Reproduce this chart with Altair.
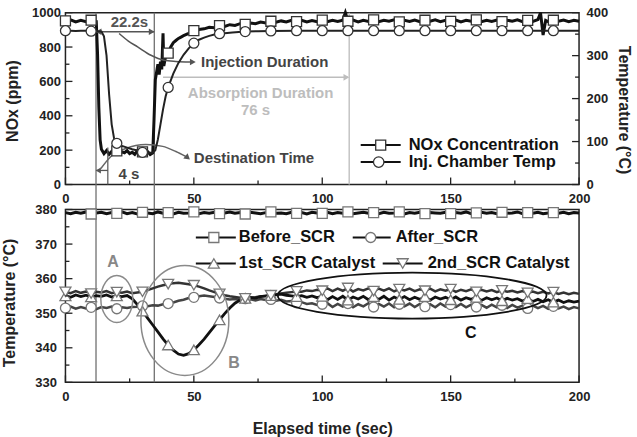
import altair as alt
import pandas as pd

FONT = "Liberation Sans"

# ---------------- top panel data ----------------
nox_t = [0, 2, 4, 6, 8, 10, 11, 12, 12.5, 13, 13.5, 14, 15, 16, 17, 18, 19, 20, 21, 22,
         23, 24, 25, 26, 27, 28, 29, 30, 31, 32, 33, 34, 34.5, 35, 35.5, 36, 36.5, 37,
         37.5, 38, 38.3, 39, 40, 41, 42, 43, 44, 45, 46, 48,
         50, 52, 54, 56, 58, 60, 62, 64, 66, 68, 70, 72, 74, 76, 78, 80, 82, 84, 86, 88,
         90, 92, 94, 96, 98, 100, 102, 104, 106, 108, 109,
         110, 112, 114, 116, 118, 120, 122, 124, 126, 128, 130, 132, 134, 136, 138, 140,
         142, 144, 146, 148, 150, 152, 154, 156, 158, 160, 162, 164, 166, 168, 170, 172,
         174, 176, 178, 180, 182, 184, 185, 186, 187, 188, 190, 192, 194, 196, 198, 200]
nox_v = [952, 958, 946, 955, 948, 956, 950, 948, 760, 450, 260, 205, 180, 198, 176, 192, 183, 196, 178, 190,
         185, 197, 180, 188, 176, 195, 182, 190, 178, 192, 175, 184, 380, 610, 655, 700, 640, 715,
         670, 880, 690, 745, 765, 800, 825, 838, 850, 858, 866, 880,
         895, 902, 906, 915, 912, 925, 920, 930, 926, 936, 932, 940, 936, 945, 940, 950, 944, 952, 946, 955,
         948, 956, 946, 954, 948, 957, 947, 955, 949, 956, 1000,
         950, 957, 946, 955, 949, 958, 947, 956, 950, 958, 946, 955, 949, 957, 947, 956,
         950, 958, 947, 955, 949, 957, 946, 956, 950, 958, 947, 955, 949, 957, 948, 956,
         950, 958, 947, 955, 949, 960, 1000, 870, 955, 948, 956, 950, 957, 947, 955, 950]

temp_t = [0, 2, 4, 6, 8, 10, 12, 14, 15, 16, 17, 18, 19, 20, 22, 24, 26, 28, 30, 32, 34,
          35, 36, 37, 38, 39, 40, 42, 44, 46, 48, 50, 52, 54, 56, 58, 60, 65, 70, 75, 80,
          90, 100, 110, 120, 130, 140, 150, 160, 170, 180, 190, 200]
temp_v = [358, 358, 357.5, 358, 358, 357, 357, 356, 345, 300, 210, 140, 105, 96, 90, 86, 82, 79, 75, 74, 74,
          80, 105, 140, 175, 205, 226, 258, 283, 302, 317, 329, 337, 342, 346, 349, 351, 354, 356, 357, 357.5,
          358, 358, 358, 358, 358, 358, 358, 358, 358, 358, 358, 358]

# ---------------- bottom panel data (t = 0..200 step 2) ----------------
bt = [0, 2, 4, 6, 8, 10, 12, 14, 16, 18, 20, 22, 24, 26, 28, 30, 32, 34, 36, 38,
      40, 42, 44, 46, 48, 50, 52, 54, 56, 58, 60, 62, 64, 66, 68, 70, 72, 74, 76, 78,
      80, 82, 84, 86, 88, 90, 92, 94, 96, 98, 100, 102, 104, 106, 108, 110, 112, 114, 116, 118,
      120, 122, 124, 126, 128, 130, 132, 134, 136, 138, 140, 142, 144, 146, 148, 150, 152, 154, 156, 158,
      160, 162, 164, 166, 168, 170, 172, 174, 176, 178, 180, 182, 184, 186, 188, 190, 192, 194, 196, 198, 200]
before_scr = [379.1, 378.8, 379.2, 378.9, 379.3, 378.7, 379.0, 379.2, 378.8, 379.1,
              378.9, 379.3, 378.8, 379.1, 378.7, 379.2, 379.0, 378.8, 379.3, 378.9,
              379.1, 378.7, 379.2, 378.9, 379.0, 379.3, 378.8, 379.1, 378.9, 379.2,
              378.8, 379.0, 379.3, 378.9, 379.1, 378.7, 379.2, 379.0, 378.8, 379.1,
              379.3, 378.9, 379.0, 378.8, 379.2, 378.9, 379.1, 378.7, 379.2, 379.0,
              378.9, 379.2, 378.8, 379.1, 378.9, 379.3, 378.8, 379.0, 379.2, 378.9,
              379.1, 378.8, 379.2, 378.9, 379.0, 379.3, 378.7, 379.1, 378.9, 379.2,
              378.8, 379.1, 379.0, 378.9, 379.2, 378.8, 379.1, 378.9, 379.3, 378.8,
              379.0, 379.2, 378.9, 379.1, 378.8, 379.2, 378.9, 379.0, 379.3, 378.8,
              379.1, 378.9, 379.2, 378.8, 379.0, 379.1, 378.9, 379.2, 378.8, 379.1, 379.0]
after_scr = [351.5, 351.9, 351.3, 351.8, 351.4, 351.7, 351.2, 351.8, 351.5, 351.9,
             351.3, 351.7, 351.5, 351.8, 351.9, 352.1, 352.0, 352.3, 352.2, 352.6,
             352.8, 353.1, 353.6, 353.9, 354.4, 354.6, 354.9, 355.1, 354.9, 354.7,
             354.4, 354.2, 354.0, 354.1, 353.9, 354.2, 354.0, 353.7, 354.1, 353.8,
             354.0, 353.6, 353.9, 353.4, 353.5, 353.0, 353.2, 352.7, 352.9, 352.4,
             352.6, 352.9, 351.8, 352.7, 351.9, 352.8, 351.7, 352.6, 352.0, 352.9,
             351.8, 352.7, 351.9, 352.8, 351.7, 352.6, 352.0, 352.8, 351.8, 352.7,
             351.9, 352.6, 351.7, 352.8, 351.9, 352.5, 351.8, 352.7, 351.7, 352.5,
             351.8, 352.4, 351.6, 352.5, 351.7, 352.3, 351.5, 352.4, 351.6, 352.2,
             351.4, 352.2, 351.5, 352.1, 351.3, 352.0, 351.4, 351.9, 351.2, 351.8, 351.4]
scr1_cat = [355.0, 354.6, 355.3, 354.8, 355.2, 354.7, 355.1, 354.9, 355.3, 354.7,
            355.0, 354.8, 355.1, 354.2, 352.5, 350.6, 348.6, 346.6, 344.6, 342.6,
            340.8, 339.3, 338.2, 337.8, 338.3, 339.4, 340.9, 342.5, 344.4, 346.3,
            348.1, 349.9, 351.5, 352.9, 353.8, 354.3, 354.6, 354.4, 354.8, 355.0,
            355.1, 355.3, 355.5, 355.2, 355.0, 354.8, 355.1, 354.6, 355.0, 354.5,
            354.9, 353.9, 354.8, 354.0, 354.9, 353.8, 354.7, 354.1, 354.9, 353.9,
            354.8, 354.0, 354.9, 353.8, 354.7, 354.0, 354.8, 353.9, 354.6, 354.0,
            354.8, 353.8, 354.7, 354.1, 354.6, 353.9, 354.7, 353.8, 354.5, 354.0,
            354.6, 353.7, 354.5, 353.9, 354.4, 353.6, 354.3, 353.8, 354.2, 353.5,
            354.2, 353.4, 354.0, 353.3, 353.9, 353.2, 353.8, 353.1, 353.6, 353.2, 353.5]
scr2_cat = [356.2, 355.8, 356.4, 355.9, 356.3, 355.7, 356.2, 356.0, 356.4, 355.8,
            356.1, 355.9, 356.3, 355.8, 356.0, 356.2, 356.7, 357.2, 357.7, 358.1,
            358.4, 358.7, 358.8, 358.6, 358.4, 358.1, 357.7, 357.2, 356.6, 356.1,
            355.6, 355.2, 354.9, 354.7, 354.5, 354.3, 354.4, 354.6, 354.9, 355.0,
            355.2, 355.5, 355.7, 355.9, 356.1, 356.3, 356.2, 356.6, 356.4, 356.8,
            356.5, 357.2, 356.4, 357.1, 356.5, 357.3, 356.3, 357.0, 356.6, 357.2,
            356.4, 357.1, 356.5, 357.2, 356.3, 357.0, 356.6, 357.1, 356.4, 356.9,
            356.5, 357.1, 356.3, 356.9, 356.5, 357.0, 356.2, 356.8, 356.4, 356.9,
            356.2, 356.8, 356.3, 356.7, 356.1, 356.6, 356.2, 356.5, 356.0, 356.4,
            355.9, 356.3, 355.8, 356.2, 355.7, 356.1, 355.6, 356.0, 355.5, 355.9, 355.6]

# ---------------- axes ticks ----------------
x_major = [0, 50, 100, 150, 200]
x_minor = [25, 75, 125, 175]
nox_major = [0, 200, 400, 600, 800, 1000]
nox_minor = [100, 300, 500, 700, 900]
tr_major = [0, 100, 200, 300, 400]
tr_minor = [50, 150, 250, 350]
tb_major = [330, 340, 350, 360, 370, 380]
tb_minor = [335, 345, 355, 365, 375]

# ---------------- annotations ----------------
vlines_t = [11.9, 34.6]
absorb_end_t = [110.5]

W, H1, H2, GAP = 514, 172, 173, 25

nox_df = pd.DataFrame({"t": nox_t, "v": nox_v})
temp_df = pd.DataFrame({"t": temp_t, "v": temp_v})
bot_df = pd.DataFrame({"t": bt, "before": before_scr, "after": after_scr,
                       "s1": scr1_cat, "s2": scr2_cat})


def marks_every10(df, lo=0):
    return df[(df["t"] % 10 == 0) & (df["t"] < 200) & (df["t"] >= lo)]


ax_x_top = alt.Axis(values=x_major, ticks=False, domain=False, grid=False, labelPadding=8,
                    labelFlush=False, title=None)
ax_x_bot = alt.Axis(values=x_major, ticks=False, domain=False, grid=False, labelPadding=8,
                    labelFlush=False, title="Elapsed time (sec)", titleX=W / 2, titleY=46.5,
                    titleBaseline="middle", titleAlign="center")
ax_nox = alt.Axis(values=nox_major, format="d", ticks=False, domain=False, grid=False, labelPadding=5,
                  title="NOx (ppm)", titleX=-53, titleY=88, titleBaseline="middle",
                  titleAlign="center", titleAngle=270)
ax_tr = alt.Axis(orient="right", values=tr_major, ticks=False, domain=False, grid=False,
                 labelPadding=7, title="Temperature (°C)", titleX=44, titleY=97,
                 titleBaseline="middle", titleAlign="center", titleAngle=90)
ax_tb = alt.Axis(values=tb_major, ticks=False, domain=False, grid=False, labelPadding=9,
                 title="Temperature (°C)", titleX=-56, titleY=93, titleBaseline="middle",
                 titleAlign="center", titleAngle=270)


def XT():
    return alt.X("t:Q", scale=alt.Scale(domain=[0, 200], nice=False, zero=False), axis=ax_x_top)


def XB():
    return alt.X("t:Q", scale=alt.Scale(domain=[0, 200], nice=False, zero=False), axis=ax_x_bot)


def YN(field="v"):
    return alt.Y(f"{field}:Q", scale=alt.Scale(domain=[0, 1000], nice=False, zero=False), axis=ax_nox)


def YR(field="v"):
    return alt.Y(f"{field}:Q", scale=alt.Scale(domain=[0, 400], nice=False, zero=False), axis=ax_tr)


def YB(field="v"):
    return alt.Y(f"{field}:Q", scale=alt.Scale(domain=[330, 380], nice=False, zero=False), axis=ax_tb)


def one():
    return pd.DataFrame({"a": [0]})


def txt(s, x, y, size=16, color="#111", align="left"):
    return alt.Chart(one()).mark_text(font=FONT, fontWeight="bold", fontSize=size, color=color,
                                      align=align, baseline="middle").encode(
        x=alt.value(x), y=alt.value(y), text=alt.value(s))


def seg(x1, x2, y, color="#111", sw=2):
    return alt.Chart(one()).mark_rule(color=color, strokeWidth=sw).encode(
        x=alt.value(x1), x2=alt.value(x2), y=alt.value(y))


def sym(shape, x, y, size, stroke, sw=1.3):
    return alt.Chart(one()).mark_point(shape=shape, size=size, filled=True, fill="white",
                                       stroke=stroke, strokeWidth=sw, opacity=1).encode(
        x=alt.value(x), y=alt.value(y))


def ellipse_path(a, b):
    k = 0.5523
    f = lambda z: f"{z:.4f}"
    return (f"M{f(a)},0 C{f(a)},{f(k*b)} {f(k*a)},{f(b)} 0,{f(b)} "
            f"C{f(-k*a)},{f(b)} {f(-a)},{f(k*b)} {f(-a)},0 "
            f"C{f(-a)},{f(-k*b)} {f(-k*a)},{f(-b)} 0,{f(-b)} "
            f"C{f(k*a)},{f(-b)} {f(a)},{f(-k*b)} {f(a)},0 Z")


# ================= TOP PANEL =================
def tick_x(vals, length, X, H):
    return alt.Chart(pd.DataFrame({"t": vals})).mark_rule(color="#222", strokeWidth=1.3).encode(
        x=X(), y=alt.value(H), y2=alt.value(H - length))


def tick_y(vals, length, Y, xpos, sign=1):
    return alt.Chart(pd.DataFrame({"v": vals})).mark_rule(color="#222", strokeWidth=1.3).encode(
        y=Y(), x=alt.value(xpos), x2=alt.value(xpos + sign * length))


gray_v_top = alt.Chart(pd.DataFrame({"t": vlines_t})).mark_rule(color="#707070", strokeWidth=1.3).encode(
    x=XT(), y=alt.value(0), y2=alt.value(H1 + GAP))
absorb_v = alt.Chart(pd.DataFrame({"t": absorb_end_t})).mark_rule(color="#c4c4c4", strokeWidth=1.5).encode(
    x=XT(), y=alt.value(0), y2=alt.value(H1))

nox_line = alt.Chart(nox_df).mark_line(color="#111", strokeWidth=3).encode(x=XT(), y=YN())
nox_pts = alt.Chart(marks_every10(nox_df)).mark_point(shape="square", size=100, filled=True, fill="white",
                                                      stroke="#333", strokeWidth=1.3, opacity=1).encode(x=XT(), y=YN())

# annotation geometry (data coordinates)
arr22_t, arr22_v = [12, 34.5], [889, 889]
inj_t = [20.9, 24.5, 28.1, 33.3, 38.4, 43, 48.5]
inj_v = [879, 835, 801, 752, 723, 716, 713]
abs_t, abs_v = [38, 110], [624, 624]
four_t, four_v = [12, 16.5], [82, 82]
dest_t = [13.8, 17.7, 23.5, 31.3, 37.9, 43, 46.9]
dest_v = [93, 163, 210, 233, 222, 192, 163]


def line_df(ts, vs):
    return pd.DataFrame({"t": ts, "v": vs})


def head(t, v, shape, color, angle=0, size=45):
    return alt.Chart(pd.DataFrame({"t": [t], "v": [v]})).mark_point(
        shape=shape, size=size, filled=True, color=color, opacity=1, angle=angle).encode(x=XT(), y=YN())


def dtext(label, t, v, color, size=15, align="left"):
    return alt.Chart(pd.DataFrame({"t": [t], "v": [v], "label": [label]})).mark_text(
        font=FONT, fontWeight="bold", fontSize=size, color=color, align=align, baseline="middle").encode(
        x=XT(), y=YN(), text="label:N")


ann_layers = [
    alt.Chart(line_df(arr22_t, arr22_v)).mark_line(color="#555", strokeWidth=1.5).encode(x=XT(), y=YN()),
    head(12.9, 889, "triangle-left", "#555"),
    head(33.6, 889, "triangle-right", "#555"),
    dtext("22.2s", 24.9, 945, "#555", align="center"),
    alt.Chart(line_df(inj_t, inj_v)).mark_line(color="#555", strokeWidth=1.5, interpolate="monotone").encode(x=XT(), y=YN()),
    head(49.6, 713, "triangle-right", "#555"),
    dtext("Injection Duration", 52.8, 711, "#444"),
    alt.Chart(line_df(abs_t, abs_v)).mark_line(color="#bdbdbd", strokeWidth=1.5).encode(x=XT(), y=YN()),
    head(109.4, 624, "triangle-right", "#bdbdbd"),
    dtext("Absorption Duration", 76, 531, "#bdbdbd", align="center"),
    dtext("76 s", 74, 431, "#bdbdbd", align="center"),
    alt.Chart(line_df(four_t, four_v)).mark_line(color="#555", strokeWidth=1.3).encode(x=XT(), y=YN()),
    head(12.8, 82, "triangle-left", "#555", size=35),
    alt.Chart(pd.DataFrame({"t": [16.5], "v": [0], "v2": [216]})).mark_rule(color="#555", strokeWidth=1.2).encode(
        x=XT(), y=YN(), y2="v2:Q"),
    dtext("4 s", 24.7, 64, "#444", align="center"),
    alt.Chart(line_df(dest_t, dest_v)).mark_line(color="#666", strokeWidth=1.5, interpolate="monotone").encode(x=XT(), y=YN()),
    head(47.6, 156, "triangle-right", "#555", angle=40),
    dtext("Destination Time", 50.0, 152, "#444"),
]

left_layer = alt.layer(
    absorb_v, gray_v_top, nox_line,
    *ann_layers,
    tick_x(x_major, 7, XT, H1), tick_x(x_minor, 4, XT, H1),
    tick_y(nox_major, 7, YN, 0), tick_y(nox_minor, 4, YN, 0),
    nox_pts,
    # legend
    seg(295.5, 335.5, 132.5), sym("square", 315.5, 132.5, 100, "#333"),
    txt("NOx Concentration", 343.5, 132.5, 16.5),
    seg(295.5, 335.5, 149.5), sym("circle", 313.5, 149.5, 110, "#333"),
    txt("Inj. Chamber Temp", 343.5, 149.5, 16.5),
)

temp_line = alt.Chart(temp_df).mark_line(color="#222", strokeWidth=2).encode(x=XT(), y=YR())
temp_pts = alt.Chart(marks_every10(temp_df)).mark_point(shape="circle", size=100, filled=True, fill="white",
                                                        stroke="#333", strokeWidth=1.3, opacity=1).encode(x=XT(), y=YR())
right_layer = alt.layer(
    temp_line, temp_pts,
    tick_y(tr_major, 7, YR, W, -1), tick_y(tr_minor, 4, YR, W, -1),
)

top = alt.layer(left_layer, right_layer).resolve_scale(y="independent").properties(width=W, height=H1)

# ================= BOTTOM PANEL =================
gray_v_bot = alt.Chart(pd.DataFrame({"t": vlines_t})).mark_rule(color="#707070", strokeWidth=1.3).encode(
    x=XB(), y=alt.value(0), y2=alt.value(H2))


def bline(field, color, sw):
    return alt.Chart(bot_df).mark_line(color=color, strokeWidth=sw).encode(x=XB(), y=YB(field))


def bpts(df, field, shape, size, stroke):
    return alt.Chart(df).mark_point(shape=shape, size=size, filled=True, fill="white", stroke=stroke,
                                    strokeWidth=1.3, opacity=1).encode(x=XB(), y=YB(field))


def ell(t, v, w, h, color, sw):
    m = max(w, h)
    return alt.Chart(pd.DataFrame({"t": [t], "v": [v]})).mark_point(
        shape=ellipse_path(w / m, h / m), size=m * m, filled=False, stroke=color, strokeWidth=sw,
        opacity=1).encode(x=XB(), y=YB())


def btext(label, t, v, color):
    return alt.Chart(pd.DataFrame({"t": [t], "v": [v], "label": [label]})).mark_text(
        font=FONT, fontWeight="bold", fontSize=16, color=color, align="center", baseline="middle").encode(
        x=XB(), y=YB(), text="label:N")


bm = marks_every10(bot_df)
bottom = alt.layer(
    gray_v_bot,
    bline("before", "#111", 3), bline("after", "#444", 2.5), bline("s2", "#333", 2.5), bline("s1", "#111", 2.8),
    bpts(marks_every10(bot_df, lo=10), "before", "square", 100, "#777"),
    bpts(bm, "after", "circle", 100, "#777"),
    bpts(bm, "s1", "triangle-up", 120, "#777"),
    bpts(bm, "s2", "triangle-down", 120, "#777"),
    ell(20, 354.1, 32, 47, "#8a8a8a", 1.5),
    ell(46.5, 347.9, 88, 110, "#8a8a8a", 1.5),
    ell(135, 355.1, 269, 46, "#111", 1.8),
    btext("A", 18.5, 364.7, "#888"), btext("B", 65.6, 335.5, "#888"), btext("C", 157.8, 344.4, "#111"),
    tick_x(x_major, 7, XB, H2), tick_x(x_minor, 4, XB, H2),
    tick_y(tb_major, 7, YB, 0), tick_y(tb_minor, 4, YB, 0),
    # legend
    seg(130.5, 170.5, 28), sym("square", 148.5, 28, 100, "#777"), txt("Before_SCR", 173.5, 28, 16.5),
    seg(287.5, 325.5, 28), sym("circle", 305.5, 28, 100, "#777"), txt("After_SCR", 330.5, 28, 16.5),
    seg(130.5, 170.5, 54), sym("triangle-up", 148.5, 54, 120, "#777"), txt("1st_SCR Catalyst", 173.5, 54, 16.5),
    seg(317.5, 357.5, 54), sym("triangle-down", 337.5, 54, 120, "#777"), txt("2nd_SCR Catalyst", 362.5, 54, 16.5),
).properties(width=W, height=H2)

chart = alt.vconcat(top, bottom, spacing=GAP, bounds="flush").resolve_scale(y="independent").properties(
    padding={"left": 0.5, "top": 5.5, "right": 5, "bottom": 0}, background="white"
).configure_view(stroke="#222", strokeWidth=1.5).configure_axis(
    labelFont=FONT, labelFontWeight="bold", labelFontSize=13, labelColor="#222",
    titleFont=FONT, titleFontWeight="bold", titleFontSize=16, titleColor="#222")

chart.save("out.html", embed_options={"renderer": "svg", "actions": False})
